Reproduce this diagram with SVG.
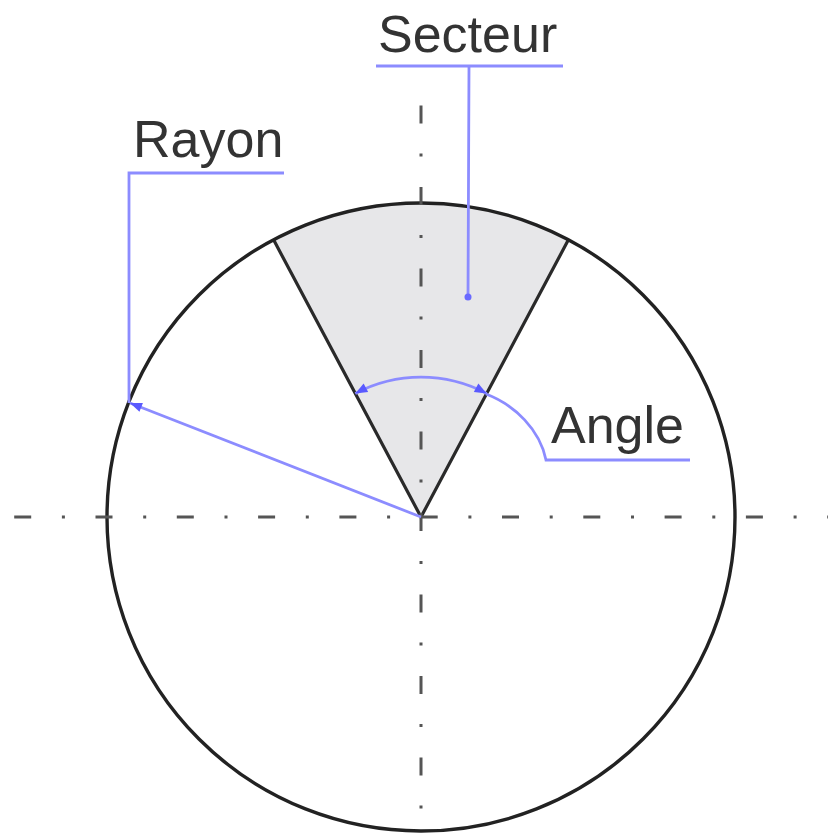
<svg xmlns="http://www.w3.org/2000/svg" width="828" height="833" viewBox="0 0 828 833">
<style>
.lbl{font-family:"Liberation Sans",Arial,sans-serif;font-size:52px;fill:#333333}
.blue{fill:none;stroke:#8c8cff;stroke-width:2.8}
.axis{fill:none;stroke:#555555;stroke-width:3}
</style>
<defs>
<marker id="ah" viewBox="0 0 10 10" refX="10" refY="5" markerWidth="16" markerHeight="12" markerUnits="userSpaceOnUse" orient="auto-start-reverse">
<path d="M0,1 L10,5 L0,9 Z" fill="#5a5aff"/>
</marker>
</defs>
<rect width="828" height="833" fill="#ffffff"/>
<g id="sector">
<path d="M421,517 L273.6,239.8 A314,314 0 0,1 568.4,239.8 Z" fill="#e7e7e9" stroke="none"/>
<path d="M273.6,239.8 L421,517 L568.4,239.8" fill="none" stroke="#2a2a2a" stroke-width="3.2"/>
</g>
<g id="circle">
<circle cx="421" cy="517" r="314" fill="none" stroke="#222222" stroke-width="3.4"/>
</g>
<g id="axes">
<line class="axis" x1="0" y1="517" x2="828" y2="517" stroke-dasharray="17 30.7 3 30.6" stroke-dashoffset="67.1"/>
<line class="axis" x1="421" y1="105.5" x2="421" y2="833" stroke-dasharray="18 30 3 30.5"/>
</g>
<g id="connectors">
<path class="blue" d="M355.3,393.4 A140,140 0 0,1 486.7,393.4" stroke="#9a9aff" marker-start="url(#ah)" marker-end="url(#ah)"/>
<path class="blue" d="M486,394 C515,405 540,430 546,460 L690,460"/>
<path class="blue" d="M421,517 L130,403" marker-end="url(#ah)"/>
<path class="blue" d="M129,403 L129,173 L284,173"/>
<path class="blue" d="M468,297 L469,66 L563,66 M376,66 L469,66"/>
<circle cx="468" cy="297" r="3.5" fill="#6a6aff"/>
</g>
<g id="label-secteur"><text class="lbl" x="378" y="52">Secteur</text></g>
<g id="label-rayon"><text class="lbl" x="133" y="157">Rayon</text></g>
<g id="label-angle"><text class="lbl" x="551" y="443">Angle</text></g>
</svg>
